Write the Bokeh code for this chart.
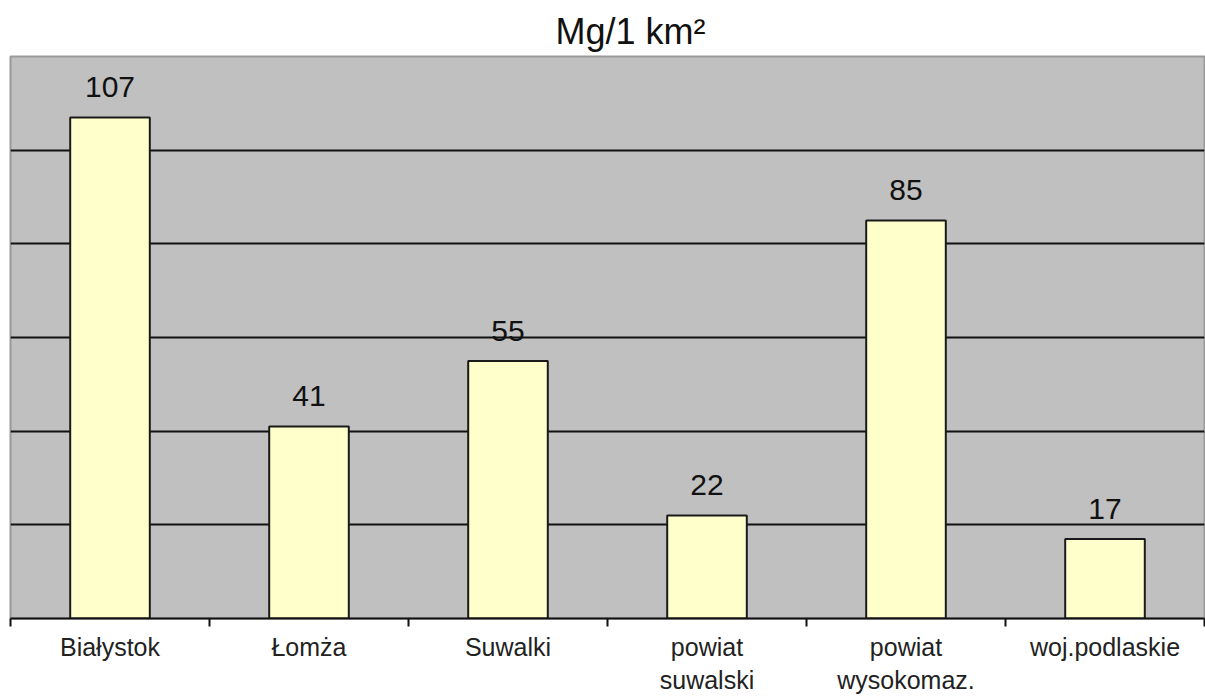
from bokeh.plotting import figure
from bokeh.models import ColumnDataSource, FixedTicker, LabelSet, Range1d
from bokeh.core.properties import value
from bokeh.embed import file_html
from bokeh.resources import INLINE

categories = ["Białystok", "Łomża", "Suwalki", "powiat\nsuwalski", "powiat\nwysokomaz.", "woj.podlaskie"]
values = [107, 41, 55, 22, 85, 17]
grid_ticks = [20, 40, 60, 80, 100]

xs = [i + 0.5 for i in range(len(categories))]
src = ColumnDataSource(dict(x=xs, top=values, lab=[str(v) for v in values]))

p = figure(width=1205, height=697, output_backend="svg", toolbar_location=None,
           x_range=Range1d(0, len(categories)), y_range=Range1d(0, 120),
           min_border_left=10, min_border_right=1, min_border_top=56, min_border_bottom=79,
           title="Mg/1 km²")
p.title.align = "left"
p.title.offset = 545
p.title.text_font = "Liberation Sans"
p.title.text_font_size = "36px"
p.title.text_font_style = "normal"
p.title.text_color = "#111111"

p.background_fill_color = "#C0C0C0"
p.border_fill_color = "white"
p.outline_line_color = "#9a9a9a"
p.outline_line_width = 2

p.vbar(x="x", top="top", width=0.4, source=src, fill_color="#FFFFCC",
       line_color="#1a1a1a", line_width=2)

labels = LabelSet(x="x", y="top", text="lab", source=src, text_align="center",
                  text_baseline="alphabetic", y_offset=20, text_font=value("Liberation Sans"),
                  text_font_size=value("30px"), text_color="#111111")
p.add_layout(labels)

p.yaxis.visible = False
p.ygrid.ticker = FixedTicker(ticks=grid_ticks)
p.ygrid.grid_line_color = "#111111"
p.ygrid.grid_line_width = 2
p.xgrid.visible = False

ax = p.xaxis[0]
ax.ticker = FixedTicker(ticks=xs, minor_ticks=list(range(len(categories) + 1)))
ax.major_label_overrides = {x: c for x, c in zip(xs, categories)}
ax.major_tick_line_color = None
ax.major_tick_out = 0
ax.major_tick_in = 0
ax.minor_tick_line_color = "#111111"
ax.minor_tick_line_width = 2
ax.minor_tick_in = 0
ax.minor_tick_out = 8
ax.axis_line_color = "#111111"
ax.axis_line_width = 2
ax.major_label_text_font = "Liberation Sans"
ax.major_label_text_font_size = "25px"
ax.major_label_text_color = "#222222"
ax.major_label_standoff = 6

open("out.html", "w").write(file_html(p, INLINE))
